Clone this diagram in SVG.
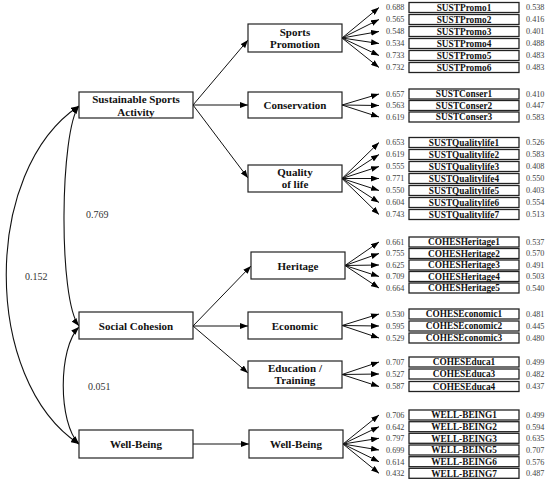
<svg xmlns="http://www.w3.org/2000/svg" width="550" height="485" viewBox="0 0 550 485">
<defs>
<marker id="ah" markerUnits="userSpaceOnUse" markerWidth="8" markerHeight="6" refX="8" refY="3" orient="auto-start-reverse"><path d="M0,0 L8,3 L0,6 z" fill="#000"/></marker>
<style>
.box{fill:#fff;stroke:#222;stroke-width:1.2}
.ibox{fill:#fff;stroke:#222;stroke-width:1.3}
.nt{font-family:"Liberation Serif",serif;font-weight:bold;font-size:11px;fill:#111;text-anchor:middle}
.it{font-family:"Liberation Serif",serif;font-weight:bold;font-size:9.3px;fill:#111;text-anchor:middle}
.num{font-family:"Liberation Serif",serif;font-size:8.2px;fill:#444}
.lbl{font-family:"Liberation Serif",serif;font-size:10px;fill:#333}
.c{fill:none;stroke:#111;stroke-width:1.1}
.a{stroke:#111;stroke-width:1}
</style>
</defs>
<rect width="550" height="485" fill="#fff"/>
<g id="connectors">
<path class="c" d="M79,106 C-18,170 -18,380 79,444" marker-start="url(#ah)" marker-end="url(#ah)"/>
<path class="c" d="M79,106 C60,130 58,300 79,326" marker-start="url(#ah)" marker-end="url(#ah)"/>
<path class="c" d="M79,327 C58,348 58,423 79,444" marker-start="url(#ah)" marker-end="url(#ah)"/>
<line class="a" x1="193" y1="105" x2="248" y2="40" marker-end="url(#ah)"/>
<line class="a" x1="193" y1="105" x2="248" y2="105" marker-end="url(#ah)"/>
<line class="a" x1="193" y1="105" x2="248" y2="178" marker-end="url(#ah)"/>
<line class="a" x1="193" y1="326" x2="251" y2="266" marker-end="url(#ah)"/>
<line class="a" x1="193" y1="326" x2="248" y2="326" marker-end="url(#ah)"/>
<line class="a" x1="193" y1="326" x2="248" y2="373" marker-end="url(#ah)"/>
<line class="a" x1="193" y1="444" x2="249" y2="444" marker-end="url(#ah)"/>
<line class="a" x1="342" y1="38" x2="379" y2="7.5" marker-end="url(#ah)"/>
<line class="a" x1="342" y1="38" x2="379" y2="19.5" marker-end="url(#ah)"/>
<line class="a" x1="342" y1="38" x2="379" y2="31.5" marker-end="url(#ah)"/>
<line class="a" x1="342" y1="38" x2="379" y2="43.5" marker-end="url(#ah)"/>
<line class="a" x1="342" y1="38" x2="379" y2="55.5" marker-end="url(#ah)"/>
<line class="a" x1="342" y1="38" x2="379" y2="67.5" marker-end="url(#ah)"/>
<line class="a" x1="342" y1="105" x2="379" y2="94" marker-end="url(#ah)"/>
<line class="a" x1="342" y1="105" x2="379" y2="105.5" marker-end="url(#ah)"/>
<line class="a" x1="342" y1="105" x2="379" y2="117" marker-end="url(#ah)"/>
<line class="a" x1="342" y1="178.5" x2="379" y2="142.5" marker-end="url(#ah)"/>
<line class="a" x1="342" y1="178.5" x2="379" y2="154.5" marker-end="url(#ah)"/>
<line class="a" x1="342" y1="178.5" x2="379" y2="166.5" marker-end="url(#ah)"/>
<line class="a" x1="342" y1="178.5" x2="379" y2="178.5" marker-end="url(#ah)"/>
<line class="a" x1="342" y1="178.5" x2="379" y2="190.5" marker-end="url(#ah)"/>
<line class="a" x1="342" y1="178.5" x2="379" y2="202.5" marker-end="url(#ah)"/>
<line class="a" x1="342" y1="178.5" x2="379" y2="214.5" marker-end="url(#ah)"/>
<line class="a" x1="345" y1="265.5" x2="379" y2="242" marker-end="url(#ah)"/>
<line class="a" x1="345" y1="265.5" x2="379" y2="253.5" marker-end="url(#ah)"/>
<line class="a" x1="345" y1="265.5" x2="379" y2="265" marker-end="url(#ah)"/>
<line class="a" x1="345" y1="265.5" x2="379" y2="276.5" marker-end="url(#ah)"/>
<line class="a" x1="345" y1="265.5" x2="379" y2="288" marker-end="url(#ah)"/>
<line class="a" x1="342" y1="325.5" x2="379" y2="314" marker-end="url(#ah)"/>
<line class="a" x1="342" y1="325.5" x2="379" y2="326" marker-end="url(#ah)"/>
<line class="a" x1="342" y1="325.5" x2="379" y2="338" marker-end="url(#ah)"/>
<line class="a" x1="342" y1="374.5" x2="379" y2="362" marker-end="url(#ah)"/>
<line class="a" x1="342" y1="374.5" x2="379" y2="374" marker-end="url(#ah)"/>
<line class="a" x1="342" y1="374.5" x2="379" y2="386.5" marker-end="url(#ah)"/>
<line class="a" x1="343" y1="444" x2="379" y2="415" marker-end="url(#ah)"/>
<line class="a" x1="343" y1="444" x2="379" y2="426.7" marker-end="url(#ah)"/>
<line class="a" x1="343" y1="444" x2="379" y2="438.3" marker-end="url(#ah)"/>
<line class="a" x1="343" y1="444" x2="379" y2="450" marker-end="url(#ah)"/>
<line class="a" x1="343" y1="444" x2="379" y2="461.7" marker-end="url(#ah)"/>
<line class="a" x1="343" y1="444" x2="379" y2="473.3" marker-end="url(#ah)"/>
</g>
<g id="labels">
<text class="lbl" x="86" y="217.5">0.769</text>
<text class="lbl" x="25" y="279.5">0.152</text>
<text class="lbl" x="88" y="389.5">0.051</text>
</g>
<g id="ssa"><rect class="box" x="79" y="92" width="114" height="26"/><text class="nt" x="136" y="102.5">Sustainable Sports</text><text class="nt" x="136" y="115.5">Activity</text></g>
<g id="sc"><rect class="box" x="79" y="312" width="114" height="27"/><text class="nt" x="136" y="329.5">Social Cohesion</text></g>
<g id="wb"><rect class="box" x="79" y="430" width="114" height="28"/><text class="nt" x="136" y="448">Well-Being</text></g>
<g id="sportspromo"><rect class="box" x="248" y="24" width="94" height="28"/><text class="nt" x="295" y="36">Sports</text><text class="nt" x="295" y="48">Promotion</text></g>
<g id="conservation"><rect class="box" x="248" y="92" width="94" height="26"/><text class="nt" x="295" y="109">Conservation</text></g>
<g id="quality"><rect class="box" x="248" y="165" width="94" height="27"/><text class="nt" x="295" y="176">Quality</text><text class="nt" x="295" y="188">of life</text></g>
<g id="heritage"><rect class="box" x="251" y="252" width="94" height="27"/><text class="nt" x="298" y="269.5">Heritage</text></g>
<g id="economic"><rect class="box" x="248" y="312" width="94" height="27"/><text class="nt" x="295" y="329.5">Economic</text></g>
<g id="education"><rect class="box" x="248" y="361" width="94" height="27"/><text class="nt" x="295" y="372">Education /</text><text class="nt" x="295" y="384">Training</text></g>
<g id="wb2"><rect class="box" x="249" y="430" width="94" height="28"/><text class="nt" x="296" y="448">Well-Being</text></g>
<g id="indicators">
<g id="i-promo1"><text class="num" x="386" y="10.4">0.688</text><rect class="ibox" x="409" y="2.5" width="110" height="10"/><text class="it" x="464" y="10.8">SUSTPromo1</text><text class="num" x="526" y="10.4">0.538</text></g>
<g id="i-promo2"><text class="num" x="386" y="22.4">0.565</text><rect class="ibox" x="409" y="14.5" width="110" height="10"/><text class="it" x="464" y="22.8">SUSTPromo2</text><text class="num" x="526" y="22.4">0.416</text></g>
<g id="i-promo3"><text class="num" x="386" y="34.4">0.548</text><rect class="ibox" x="409" y="26.5" width="110" height="10"/><text class="it" x="464" y="34.8">SUSTPromo3</text><text class="num" x="526" y="34.4">0.401</text></g>
<g id="i-promo4"><text class="num" x="386" y="46.4">0.534</text><rect class="ibox" x="409" y="38.5" width="110" height="10"/><text class="it" x="464" y="46.8">SUSTPromo4</text><text class="num" x="526" y="46.4">0.488</text></g>
<g id="i-promo5"><text class="num" x="386" y="58.4">0.733</text><rect class="ibox" x="409" y="50.5" width="110" height="10"/><text class="it" x="464" y="58.8">SUSTPromo5</text><text class="num" x="526" y="58.4">0.483</text></g>
<g id="i-promo6"><text class="num" x="386" y="70.4">0.732</text><rect class="ibox" x="409" y="62.5" width="110" height="10"/><text class="it" x="464" y="70.8">SUSTPromo6</text><text class="num" x="526" y="70.4">0.483</text></g>
<g id="i-cons1"><text class="num" x="386" y="96.9">0.657</text><rect class="ibox" x="409" y="89" width="110" height="10"/><text class="it" x="464" y="97.3">SUSTConser1</text><text class="num" x="526" y="96.9">0.410</text></g>
<g id="i-cons2"><text class="num" x="386" y="108.4">0.563</text><rect class="ibox" x="409" y="100.5" width="110" height="10"/><text class="it" x="464" y="108.8">SUSTConser2</text><text class="num" x="526" y="108.4">0.447</text></g>
<g id="i-cons3"><text class="num" x="386" y="119.9">0.619</text><rect class="ibox" x="409" y="112" width="110" height="10"/><text class="it" x="464" y="120.3">SUSTConser3</text><text class="num" x="526" y="119.9">0.583</text></g>
<g id="i-ql1"><text class="num" x="386" y="145.4">0.653</text><rect class="ibox" x="409" y="137.5" width="110" height="10"/><text class="it" x="464" y="145.8">SUSTQualitylife1</text><text class="num" x="526" y="145.4">0.526</text></g>
<g id="i-ql2"><text class="num" x="386" y="157.4">0.619</text><rect class="ibox" x="409" y="149.5" width="110" height="10"/><text class="it" x="464" y="157.8">SUSTQualitylife2</text><text class="num" x="526" y="157.4">0.583</text></g>
<g id="i-ql3"><text class="num" x="386" y="169.4">0.555</text><rect class="ibox" x="409" y="161.5" width="110" height="10"/><text class="it" x="464" y="169.8">SUSTQualitylife3</text><text class="num" x="526" y="169.4">0.408</text></g>
<g id="i-ql4"><text class="num" x="386" y="181.4">0.771</text><rect class="ibox" x="409" y="173.5" width="110" height="10"/><text class="it" x="464" y="181.8">SUSTQualitylife4</text><text class="num" x="526" y="181.4">0.550</text></g>
<g id="i-ql5"><text class="num" x="386" y="193.4">0.550</text><rect class="ibox" x="409" y="185.5" width="110" height="10"/><text class="it" x="464" y="193.8">SUSTQualitylife5</text><text class="num" x="526" y="193.4">0.403</text></g>
<g id="i-ql6"><text class="num" x="386" y="205.4">0.604</text><rect class="ibox" x="409" y="197.5" width="110" height="10"/><text class="it" x="464" y="205.8">SUSTQualitylife6</text><text class="num" x="526" y="205.4">0.554</text></g>
<g id="i-ql7"><text class="num" x="386" y="217.4">0.743</text><rect class="ibox" x="409" y="209.5" width="110" height="10"/><text class="it" x="464" y="217.8">SUSTQualitylife7</text><text class="num" x="526" y="217.4">0.513</text></g>
<g id="i-her1"><text class="num" x="386" y="244.9">0.661</text><rect class="ibox" x="409" y="237" width="110" height="10"/><text class="it" x="464" y="245.3">COHESHeritage1</text><text class="num" x="526" y="244.9">0.537</text></g>
<g id="i-her2"><text class="num" x="386" y="256.4">0.755</text><rect class="ibox" x="409" y="248.5" width="110" height="10"/><text class="it" x="464" y="256.8">COHESHeritage2</text><text class="num" x="526" y="256.4">0.570</text></g>
<g id="i-her3"><text class="num" x="386" y="267.9">0.625</text><rect class="ibox" x="409" y="260" width="110" height="10"/><text class="it" x="464" y="268.3">COHESHeritage3</text><text class="num" x="526" y="267.9">0.491</text></g>
<g id="i-her4"><text class="num" x="386" y="279.4">0.709</text><rect class="ibox" x="409" y="271.5" width="110" height="10"/><text class="it" x="464" y="279.8">COHESHeritage4</text><text class="num" x="526" y="279.4">0.503</text></g>
<g id="i-her5"><text class="num" x="386" y="290.9">0.664</text><rect class="ibox" x="409" y="283" width="110" height="10"/><text class="it" x="464" y="291.3">COHESHeritage5</text><text class="num" x="526" y="290.9">0.540</text></g>
<g id="i-eco1"><text class="num" x="386" y="316.9">0.530</text><rect class="ibox" x="409" y="309" width="110" height="10"/><text class="it" x="464" y="317.3">COHESEconomic1</text><text class="num" x="526" y="316.9">0.481</text></g>
<g id="i-eco2"><text class="num" x="386" y="328.9">0.595</text><rect class="ibox" x="409" y="321" width="110" height="10"/><text class="it" x="464" y="329.3">COHESEconomic2</text><text class="num" x="526" y="328.9">0.445</text></g>
<g id="i-eco3"><text class="num" x="386" y="340.9">0.529</text><rect class="ibox" x="409" y="333" width="110" height="10"/><text class="it" x="464" y="341.3">COHESEconomic3</text><text class="num" x="526" y="340.9">0.480</text></g>
<g id="i-edu1"><text class="num" x="386" y="364.9">0.707</text><rect class="ibox" x="409" y="357" width="110" height="10"/><text class="it" x="464" y="365.3">COHESEduca1</text><text class="num" x="526" y="364.9">0.499</text></g>
<g id="i-edu3"><text class="num" x="386" y="376.9">0.527</text><rect class="ibox" x="409" y="369" width="110" height="10"/><text class="it" x="464" y="377.3">COHESEduca3</text><text class="num" x="526" y="376.9">0.482</text></g>
<g id="i-edu4"><text class="num" x="386" y="389.4">0.587</text><rect class="ibox" x="409" y="381.5" width="110" height="10"/><text class="it" x="464" y="389.8">COHESEduca4</text><text class="num" x="526" y="389.4">0.437</text></g>
<g id="i-wb1"><text class="num" x="386" y="417.9">0.706</text><rect class="ibox" x="409" y="410" width="110" height="10"/><text class="it" x="464" y="418.3">WELL-BEING1</text><text class="num" x="526" y="417.9">0.499</text></g>
<g id="i-wb2"><text class="num" x="386" y="429.6">0.642</text><rect class="ibox" x="409" y="421.7" width="110" height="10"/><text class="it" x="464" y="430">WELL-BEING2</text><text class="num" x="526" y="429.6">0.594</text></g>
<g id="i-wb3"><text class="num" x="386" y="441.2">0.797</text><rect class="ibox" x="409" y="433.3" width="110" height="10"/><text class="it" x="464" y="441.6">WELL-BEING3</text><text class="num" x="526" y="441.2">0.635</text></g>
<g id="i-wb5"><text class="num" x="386" y="452.9">0.699</text><rect class="ibox" x="409" y="445" width="110" height="10"/><text class="it" x="464" y="453.3">WELL-BEING5</text><text class="num" x="526" y="452.9">0.707</text></g>
<g id="i-wb6"><text class="num" x="386" y="464.6">0.614</text><rect class="ibox" x="409" y="456.7" width="110" height="10"/><text class="it" x="464" y="465">WELL-BEING6</text><text class="num" x="526" y="464.6">0.576</text></g>
<g id="i-wb7"><text class="num" x="386" y="476.2">0.432</text><rect class="ibox" x="409" y="468.3" width="110" height="10"/><text class="it" x="464" y="476.6">WELL-BEING7</text><text class="num" x="526" y="476.2">0.487</text></g>
</g>
</svg>
